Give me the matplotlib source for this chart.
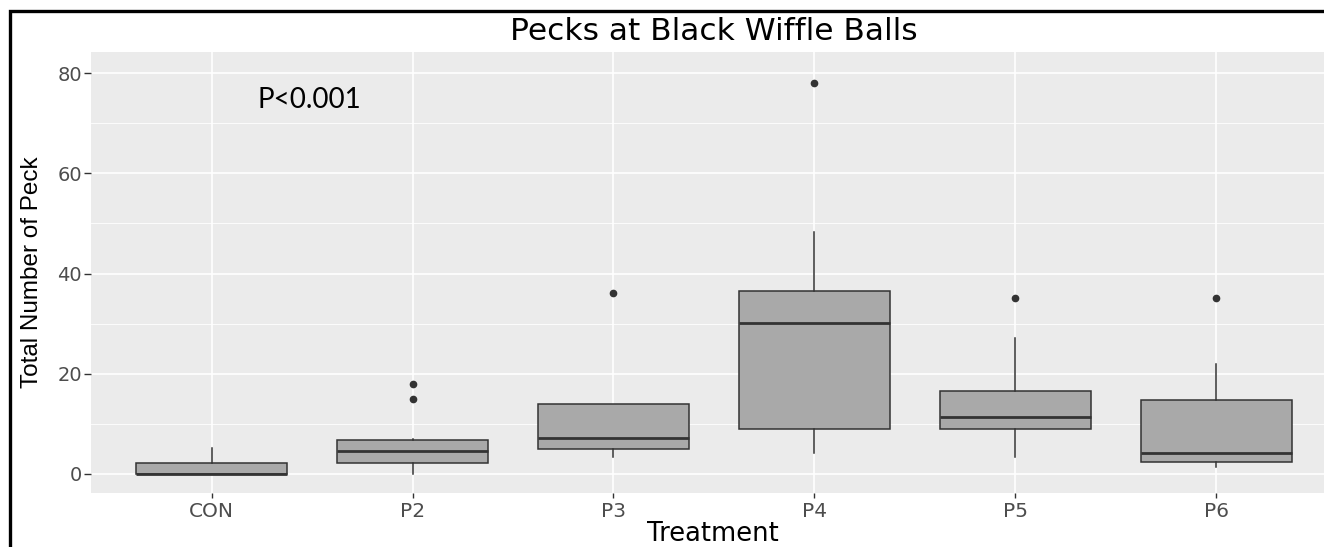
import matplotlib
matplotlib.use("Agg")
import matplotlib.pyplot as plt
from matplotlib.patches import Rectangle
from matplotlib.ticker import MultipleLocator

plt.rcParams["font.family"] = ["DejaVu Sans"]

# значения (ggplot boxplot)
treatments = ["CON", "P2", "P3", "P4", "P5", "P6"]
q1 = [0.0, 2.1, 4.9, 9.0, 9.0, 2.3]
medians = [0.0, 4.6, 7.2, 30.2, 11.3, 4.2]
q3 = [2.1, 6.8, 14.0, 36.6, 16.6, 14.8]
whisk_lo = [0.0, 0.0, 3.3, 4.2, 3.3, 1.4]
whisk_hi = [5.1, 7.0, 14.0, 48.2, 27.2, 22.0]
outliers = [[], [15.0, 18.0], [36.2], [78.0], [35.1], [35.1]]
yticks = [0, 20, 40, 60, 80]

W, H = 1324, 547
fig = plt.figure(figsize=(W / 100, H / 100), dpi=100)
fig.patch.set_facecolor("white")
ax = fig.add_axes([91 / W, 1 - 493 / H, (W - 91) / W, (493 - 52) / H])
ax.set_facecolor("#EBEBEB")

stats = []
for i, name in enumerate(treatments):
    stats.append({
        "label": name, "q1": q1[i], "med": medians[i], "q3": q3[i],
        "whislo": whisk_lo[i], "whishi": whisk_hi[i], "fliers": outliers[i],
    })

ink = "#333333"
positions = list(range(1, len(treatments) + 1))
ax.bxp(
    stats, positions=positions, widths=0.75, patch_artist=True, showcaps=False,
    boxprops=dict(facecolor="#A9A9A9", edgecolor=ink, linewidth=1.1),
    medianprops=dict(color=ink, linewidth=2.0),
    whiskerprops=dict(color=ink, linewidth=1.1),
    flierprops=dict(marker="o", markerfacecolor=ink, markeredgecolor=ink, markersize=4.5),
    zorder=3,
)

ax.set_xlim(0.4, 6.536)
ax.set_ylim(-3.8, 84.2)
ax.set_yticks(yticks)
ax.yaxis.set_minor_locator(MultipleLocator(10))
ax.set_xticks(positions)
ax.set_xticklabels(treatments)

ax.grid(which="major", color="white", linewidth=1.2, zorder=0)
ax.grid(which="minor", axis="y", color="white", linewidth=0.6, zorder=0)
ax.set_axisbelow(True)
for spine in ax.spines.values():
    spine.set_visible(False)

ax.tick_params(axis="y", which="major", length=5, width=1, color=ink, pad=1.5,
               labelsize=14, labelcolor="#4D4D4D")
ax.tick_params(axis="x", which="major", length=3.6, width=1, color=ink, pad=3,
               labelsize=14.5, labelcolor="#4D4D4D")
ax.tick_params(axis="y", which="minor", length=0)

ax.set_ylabel("Total Number of Peck", fontsize=17.5,
              family=["Liberation Sans Narrow", "Liberation Sans"])
ax.yaxis.set_label_coords(-0.039, 0.5)
ax.set_xlabel("Treatment", fontsize=18.5)
ax.xaxis.label.set_va("center")
ax.xaxis.set_label_coords((713 - 91) / (W - 91), (493 - 534) / (493 - 52))

fig.text(714 / W, 1 - 32 / H, "Pecks at Black Wiffle Balls", fontsize=22.5, ha="center", va="center")
ax.text(1.231, 74.6, "P<0.001", fontsize=20, family="Lato", ha="left", va="center")

# чёрная рамка вокруг (видна только слева и сверху)
fig.add_artist(Rectangle((10 / W, -0.2), 1.5, 1.2 - 11 / H, transform=fig.transFigure,
                         fill=False, edgecolor="black", linewidth=2.4, clip_on=False))

fig.savefig("out.png", dpi=100, facecolor=fig.get_facecolor())
plt.close(fig)
